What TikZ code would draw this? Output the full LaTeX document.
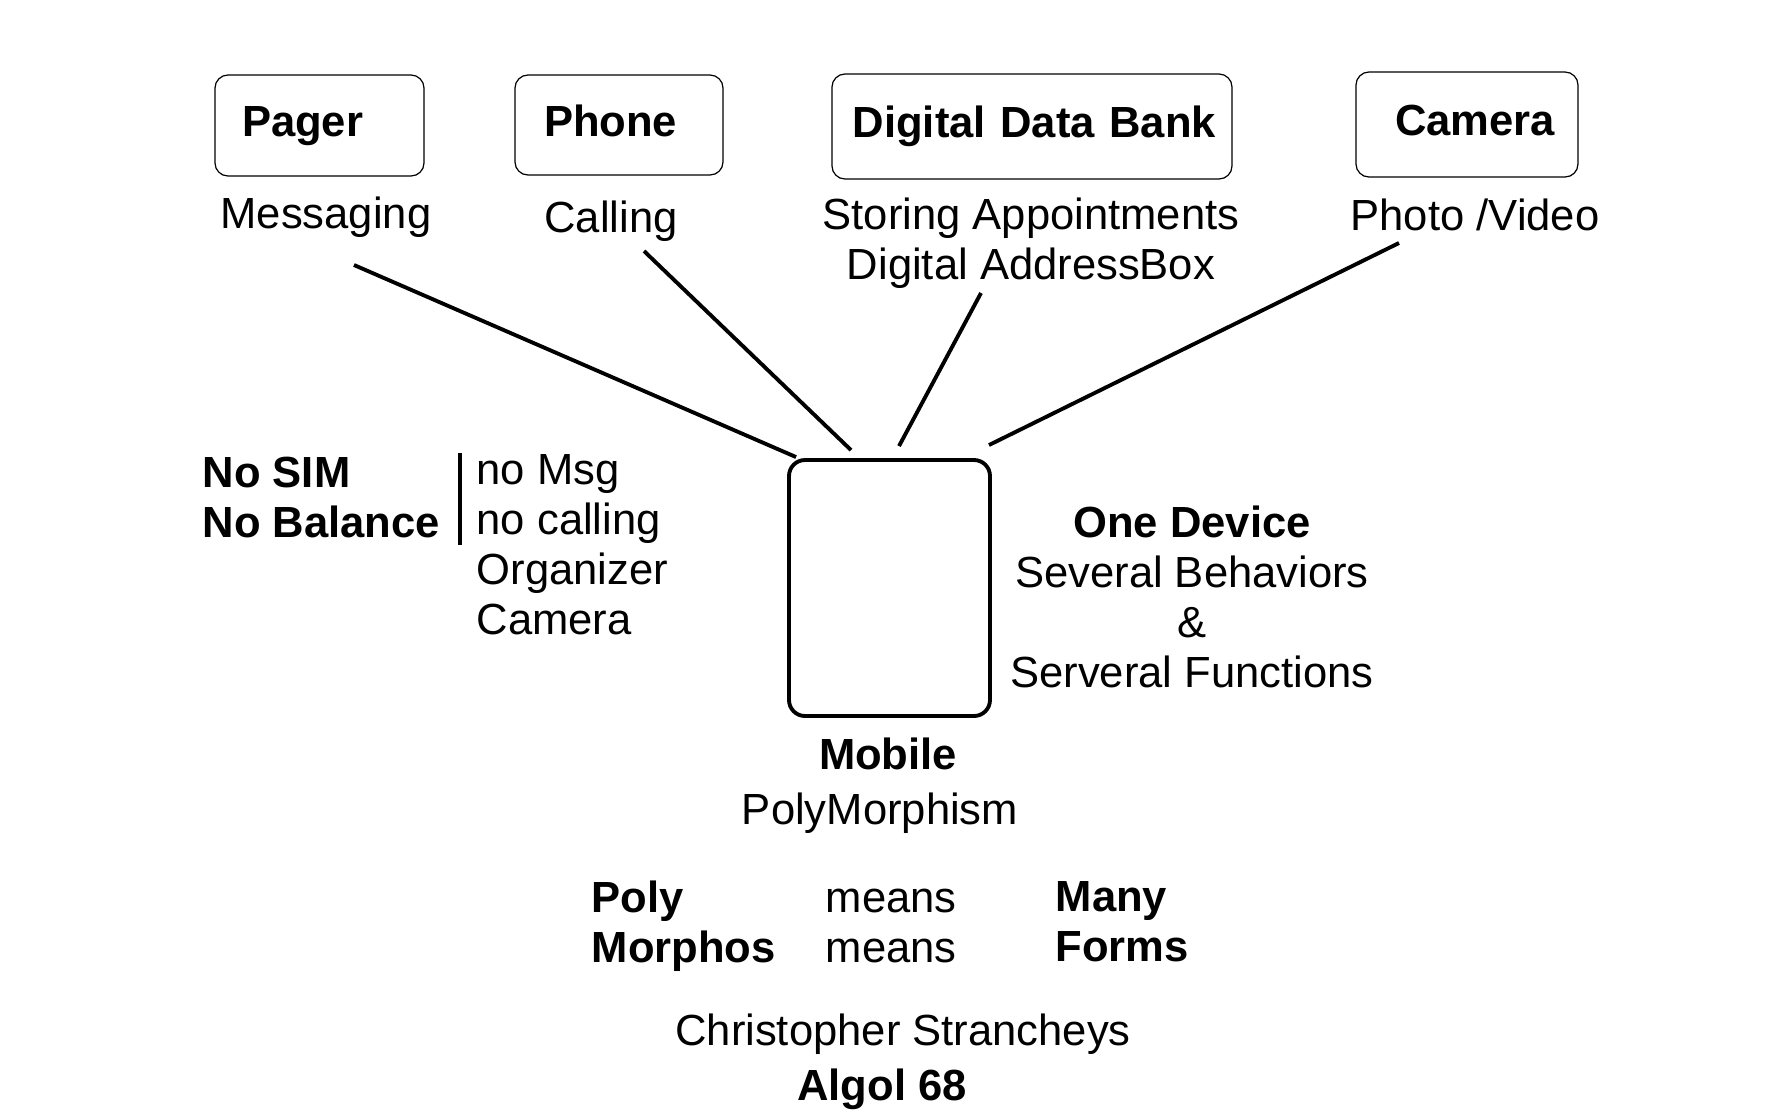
\documentclass[tikz,border=0pt]{standalone}
\usepackage{fontspec}
\setmainfont{Liberation Sans}
\usetikzlibrary{calc}

\newcommand{\figfont}{\fontsize{12.4}{14.2}\selectfont}

\begin{document}
\begin{tikzpicture}[x=0.1mm, y=-0.1mm,
    every node/.style={inner sep=0pt, font=\figfont},
    bold/.style={font=\figfont\bfseries},
    devbox/.style={draw, rounded corners=1.3mm, line width=0.35pt, font=\figfont\bfseries,
        align=left, text height=8.9pt, text depth=2.6pt},
    phonebox/.style={draw, rounded corners=1.6mm, line width=1.1pt, minimum width=20.1mm, minimum height=25.6mm},
    link/.style={line width=1.1pt}]
    \useasboundingbox (0,0) rectangle (1770,1118);

    % the four old devices
    \node[devbox, inner xsep=2.7mm, text width=15.5mm, minimum height=10.1mm] (pager) at (319.5,125.5) {Pager};
    \node[devbox, inner xsep=2.9mm, text width=15mm, minimum height=10mm] (phone) at (619,125) {Phone};
    \node[devbox, align=right, inner xsep=1.6mm, text width=36.8mm, minimum height=10.5mm] (databank) at (1032,126.5) {Digital Data Bank};
    \node[devbox, align=right, inner xsep=2.3mm, text width=17.6mm, minimum height=10.5mm] (camera) at (1467,124.5) {Camera};

    % what each one does
    \node[anchor=base] (msg) at (326,228) {Messaging};
    \node[anchor=base] (calling) at (611,232) {Calling};
    \node[anchor=base, align=center] (storing) at (1031,279) {Storing Appointments\\Digital AddressBox};
    \node[anchor=base] (photo) at (1475,230) {Photo /Video};

    % the mobile
    \node[phonebox] (mobile) at (889.5,588) {};
    \node[bold, anchor=base] (mobilelbl) at (888,769) {Mobile};
    \node[anchor=base] (polym) at (880,824) {PolyMorphism};

    % lines into the mobile
    \coordinate (msgtip) at (354,265);
    \coordinate (calltip) at (644,251);
    \coordinate (storetip) at (981,293);
    \coordinate (phototip) at (1399,243);
    \draw[link] (msgtip) -- ($(mobile.north west)+(9,-1)$);
    \draw[link] (calltip) -- ($(mobile.north)+(-38.5,-8)$);
    \draw[link] (storetip) -- ($(mobile.north)+(9.5,-12)$);
    \draw[link] (phototip) -- ($(mobile.north east)+(-3,-13)$);

    % left side
    \node[bold, anchor=base west, align=left] (nosim) at (202,537) {No SIM\\No Balance};
    \draw[line width=1.1pt] (460,453) -- (460,545);
    \node[anchor=base west, align=left] (lacks) at (476,634) {no Msg\\no calling\\Organizer\\Camera};

    % right side
    \node[anchor=base, align=center] (device) at (1192,687) {\textbf{One Device}\\Several Behaviors\\\&\\Serveral Functions};

    % bottom
    \node[bold, anchor=base west, align=left] (polyword) at (591,962) {Poly\\Morphos};
    \node[anchor=base west, align=left] (means) at (825,962) {means\\means};
    \node[bold, anchor=base west, align=left] (many) at (1055,961) {Many\\Forms};
    \node[anchor=base] (strachey) at (903,1045) {Christopher Strancheys};
    \node[bold, anchor=base] (algol) at (882,1100) {Algol 68};
\end{tikzpicture}
\end{document}
